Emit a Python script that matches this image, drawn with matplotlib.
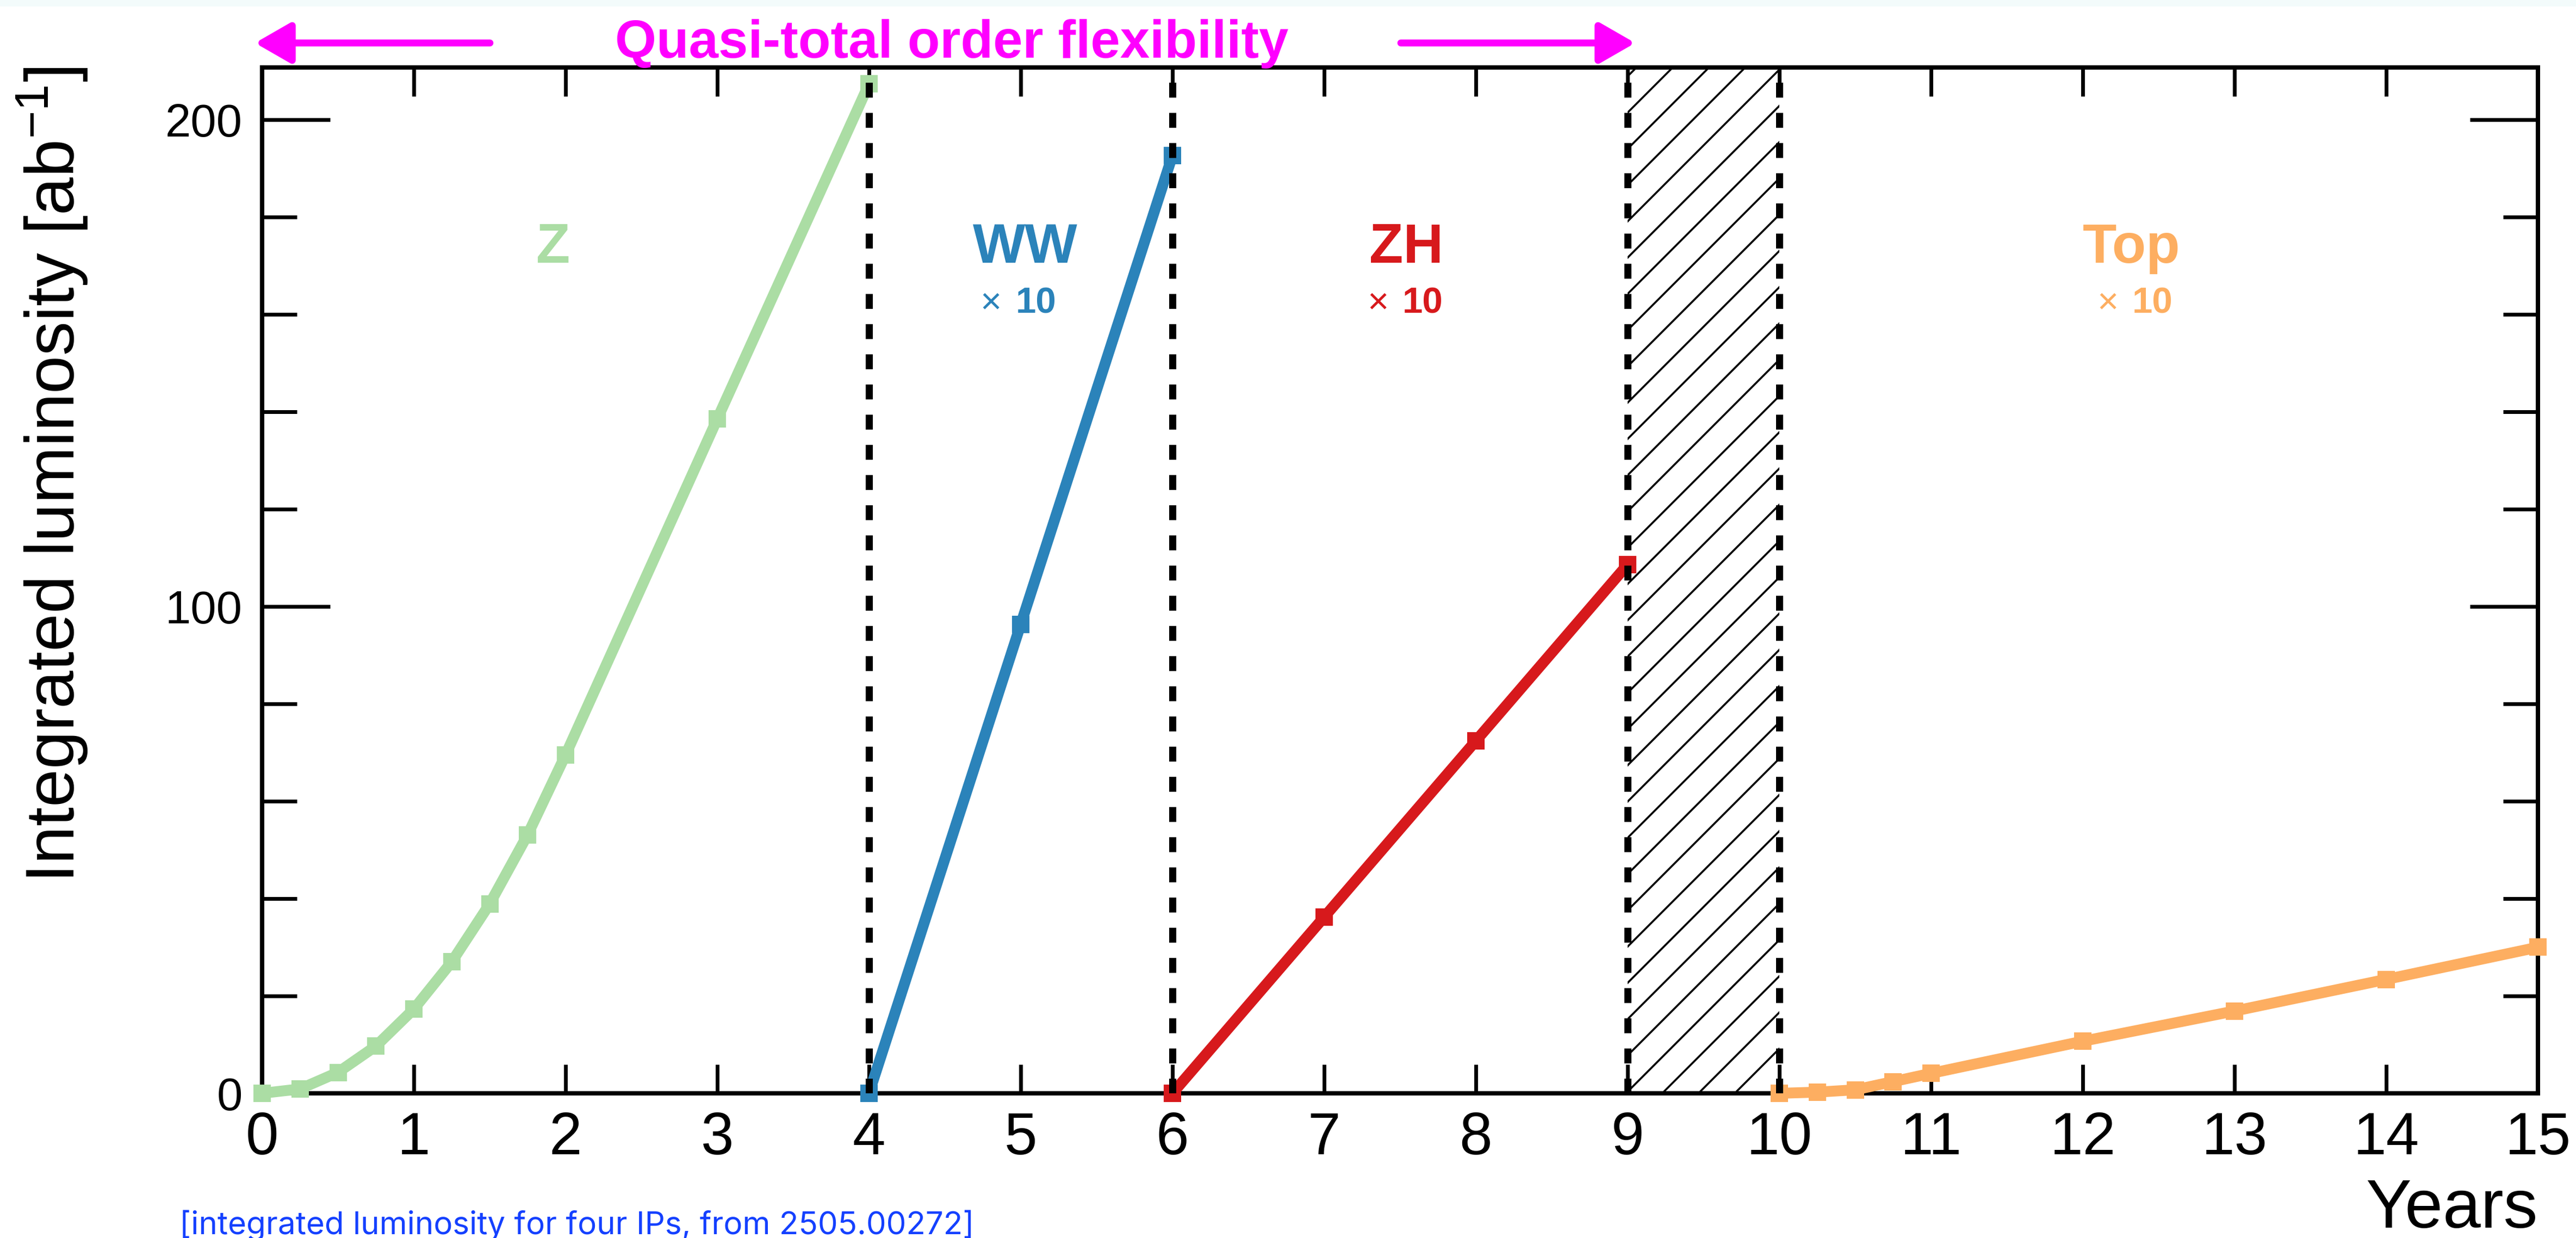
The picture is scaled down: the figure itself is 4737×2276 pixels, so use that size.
import matplotlib
matplotlib.use("Agg")
import matplotlib.pyplot as plt
from matplotlib.ticker import MultipleLocator
from matplotlib.patches import FancyArrowPatch, Rectangle

plt.rcParams["font.family"] = ["Liberation Sans", "DejaVu Sans"]
plt.rcParams["mathtext.default"] = "regular"
plt.rcParams["hatch.linewidth"] = 0.65

# integrated luminosity [ab^-1] vs. years
z_years = [0, 0.25, 0.5, 0.75, 1, 1.25, 1.5, 1.75, 2, 3, 4]
z_lumi = [0, 0.9, 4.3, 9.7, 17.3, 27.0, 38.9, 53.1, 69.5, 138.5, 207.3]

ww_years = [4, 5, 6]
ww_lumi = [0, 96.3, 192.6]

zh_years = [6, 7, 8, 9]
zh_lumi = [0, 36.2, 72.4, 108.6]

top_years = [10, 10.25, 10.5, 10.75, 11, 12, 13, 14, 15]
top_lumi = [0, 0.24, 0.72, 2.4, 4.1, 10.7, 16.9, 23.4, 30.0]

run_labels = ["Z", "WW", "ZH", "Top"]
label_x = [1.92, 5.03, 7.54, 12.32]
scale_x = [None, 4.92, 7.47, 12.28]
colors = ["#abdda4", "#2b83ba", "#d7191c", "#fdae61"]

boundaries = [4, 6, 9, 10]
shutdown = (9, 10)

W, H = 4737, 2276
fig = plt.figure(figsize=(W / 400, H / 400), dpi=400)
fig.patch.set_facecolor("white")
fig.add_artist(Rectangle((0, 1 - 12 / H), 1, 12 / H, transform=fig.transFigure,
                         color="#f3fbfb", lw=0, zorder=0))

ax = fig.add_axes([482 / W, 1 - 2010 / H, (4667 - 482) / W, (2010 - 124) / H])

series = [(z_years, z_lumi), (ww_years, ww_lumi), (zh_years, zh_lumi), (top_years, top_lumi)]
for (xs, ys), c in zip(series, colors):
    ax.plot(xs, ys, color=c, lw=3.6, marker="s", markersize=5.9, markeredgewidth=0,
            clip_on=False, zorder=4, solid_joinstyle="miter")

ax.axvspan(shutdown[0], shutdown[1], facecolor="none", edgecolor="black", lw=0,
           hatch="//", zorder=1)
for b in boundaries:
    ax.axvline(b, color="black", lw=2.35, linestyle=(0, (2.1, 2.15)), zorder=5)

for name, x, sx, c in zip(run_labels, label_x, scale_x, colors):
    ax.text(x, 170.6, name, color=c, fontsize=18.4, fontweight="bold",
            ha="center", va="baseline")
    if sx is not None:
        # thin "x" sign, bold factor
        ax.annotate("×", (sx, 160.3), xytext=(-2.3, 0), textcoords="offset points",
                    color=c, fontsize=12.1, ha="right", va="baseline")
        ax.annotate("10", (sx, 160.3), xytext=(2.3, 0), textcoords="offset points",
                    color=c, fontsize=12.1, fontweight="bold", ha="left", va="baseline")

ax.set_xlim(0, 15)
ax.set_ylim(0, 210.7)
ax.xaxis.set_major_locator(MultipleLocator(1))
ax.yaxis.set_major_locator(MultipleLocator(100))
ax.yaxis.set_minor_locator(MultipleLocator(20))

for s in ax.spines.values():
    s.set_linewidth(1.45)
    s.set_zorder(3)

ax.tick_params(axis="both", which="both", direction="in", top=True, right=True, width=1.25)
ax.tick_params(axis="x", which="major", length=9.5, labelsize=19.6, pad=6)
ax.tick_params(axis="y", which="major", length=22.5, labelsize=15.3, pad=6.5)
ax.tick_params(axis="y", which="minor", length=11.5)

fig.text(137 / W, 1 - 123 / H, "Integrated luminosity [ab$^{-1}$]", fontsize=22.6,
         rotation=90, rotation_mode="anchor", ha="right", va="baseline")
fig.text(4667 / W, 1 - 2257 / H, "Years", fontsize=22.6, ha="right", va="baseline")

fig.text(1750 / W, 1 - 106 / H, "Quasi-total order flexibility", color="#ff00ff",
         fontsize=17.6, fontweight="bold", ha="center", va="baseline")
arrow_y = 1 - 79 / H
for x0, x1 in [(901, 469), (2576, 3007)]:
    fig.add_artist(FancyArrowPatch((x0 / W, arrow_y), (x1 / W, arrow_y),
                                   transform=fig.transFigure, color="#ff00ff",
                                   arrowstyle="-|>,head_length=0.4,head_width=0.23",
                                   mutation_scale=25, lw=2.3, shrinkA=0, shrinkB=0))

fig.text(330 / W, 1 - 2269 / H, "[integrated luminosity for four IPs, from 2505.00272]",
         color="#1440ff", fontsize=10.5, family=["Inter", "DejaVu Sans"],
         ha="left", va="baseline")

fig.savefig("out.png", dpi=400)
